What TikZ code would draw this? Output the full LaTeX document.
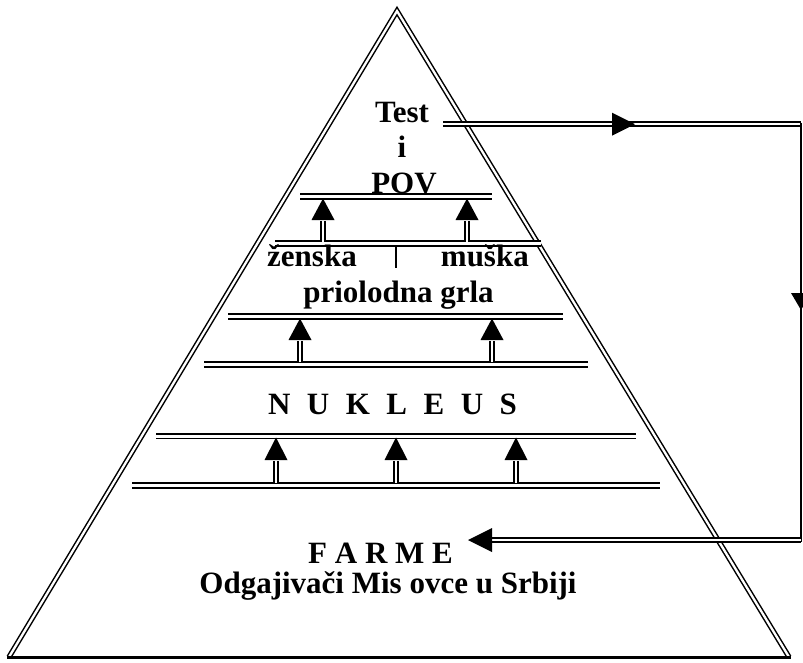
\documentclass[tikz,border=0pt]{standalone}
\usepackage{fontspec}
\setmainfont{Liberation Serif}
\usetikzlibrary{calc}
\begin{document}
\begin{tikzpicture}[x=1pt,y=-1pt,
  side/.style={draw, line width=1.5pt, double, double distance=2.3pt, line join=miter},
  bar/.style={draw, line width=1.8pt, double, double distance=3pt},
  shaft/.style={draw, line width=1.3pt, double, double distance=2.6pt},
  link/.style={draw, line width=1.6pt, double, double distance=2.4pt},
  lbl/.style={font=\bfseries\fontsize{31}{36}\selectfont, inner sep=0pt, anchor=base},
]
\useasboundingbox (0,0) rectangle (803,662);
\fill[white] (0,0) rectangle (803,662);

% pyramid
\coordinate (apex) at (397,11);
\coordinate (bl) at (9,657);
\coordinate (br) at (789,657);
\draw[side] (bl) -- (apex) -- (br);
\draw[line width=2.6pt] (7,657.5) -- (791,657.5);

% horizontal double bars
\coordinate (l1a) at (300,196.3); \coordinate (l1b) at (492,196.3);
\coordinate (l2a) at (275,243.5); \coordinate (l2b) at (541,243.5);
\coordinate (l3a) at (228,316.5); \coordinate (l3b) at (563,316.5);
\coordinate (l4a) at (204,364.2); \coordinate (l4b) at (588,364.2);
\coordinate (l5a) at (156,436);   \coordinate (l5b) at (636,436);
\coordinate (l6a) at (132,485.3); \coordinate (l6b) at (660,485.3);
\foreach \n in {1,...,6} { \draw[bar] (l\n a) -- (l\n b); }

% upward arrows: x, bottom of shaft, base of head, tip
\foreach \ax/\ay/\ahb/\aht in {323/241.5/220/198.5, 467/241.5/220/198.5,
                              300/362/340/318.5, 492/362/340/318.5,
                              276/483/460/437.5, 396/483/460/437.5, 516/483/460/437.5} {
  \draw[shaft] (\ax,\ay) -- (\ax,\ahb+1);
  \fill (\ax-11.5,\ahb) -- (\ax+11.5,\ahb) -- (\ax,\aht) -- cycle;
}

% separator
\draw[line width=1.5pt] (396,245.5) -- (396,268);

% texts
\node[lbl] (test) at (402,122) {Test};
\node[lbl] (ii) at (402,157.5) {i};
\node[lbl] (pov) at (404,193) {POV};
\node[lbl, anchor=base west] (zen) at (267,266) {ženska};
\node[lbl, anchor=base east] (mus) at (529,266) {muška};
\node[lbl] (prio) at (398.5,302.5) {priolodna grla};
\node[lbl] (nuk) at (392.5,414) {\spaceskip=16.5pt\relax N U K L E U S};
\node[lbl] (farme) at (380.5,563) {F A R M E};
\node[lbl] (odg) at (388,593) {Odgajivači Mis ovce u Srbiji};

% feedback connector
\coordinate (c1) at (443,124.2);
\coordinate (c2) at (801,124.2);
\coordinate (c3) at (801,540);
\coordinate (c4) at (490,540);
\draw[link] (c1) -- (c2);
\draw[line width=2.6pt] (801,122.5) -- (801,541.5);
\draw[link] (c3) -- (c4);
\fill (612,112.7) -- (612,135.7) -- (635,124.2) -- cycle;
\fill (791,293) -- (811,293) -- (801,310) -- cycle;
\fill (492,528) -- (492,552) -- (468,540) -- cycle;
\end{tikzpicture}
\end{document}
